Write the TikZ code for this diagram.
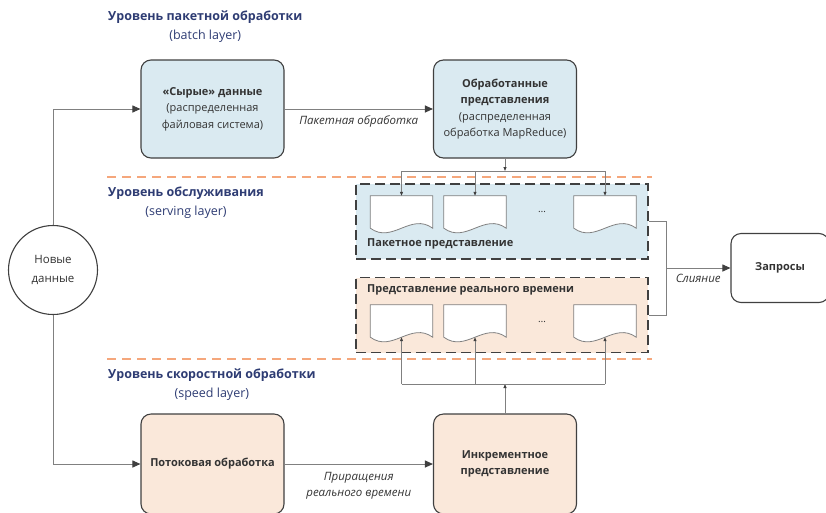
\documentclass[tikz,border=0pt]{standalone}
\usepackage{fontspec}
\setmainfont{Open Sans}
\usepackage{tikz}
\usetikzlibrary{arrows.meta,calc,positioning}
\definecolor{layerblue}{HTML}{2E3C73}
\definecolor{batchfill}{HTML}{DAEAF1}
\definecolor{speedfill}{HTML}{FAE8DA}
\definecolor{layerorange}{HTML}{F5A77C}
\definecolor{boxline}{HTML}{404040}
\definecolor{wiregray}{HTML}{808080}
\definecolor{inkgray}{HTML}{333333}
\tikzset{
  stagebox/.style={
    draw=boxline,
    rounded corners=10pt,
    line width=1.1pt,
    align=center,
    text=inkgray,
    minimum width=143pt,
    minimum height=98pt,
    inner sep=3pt,
    font=\fontsize{11}{16.5}\selectfont
  },
  stagebatch/.style={
    stagebox,
    fill=batchfill
  },
  stagespeed/.style={
    stagebox,
    fill=speedfill,
    minimum height=100pt
  },
  querybox/.style={
    stagebox,
    fill=white,
    minimum width=98pt,
    minimum height=69pt
  },
  sourcenode/.style={
    circle,
    draw=boxline,
    line width=1.1pt,
    minimum size=89pt,
    align=center,
    text=inkgray,
    fill=white,
    font=\fontsize{11.5}{19}\selectfont
  },
  viewframe/.style={
    draw=boxline,
    dash pattern=on 10pt off 5pt,
    line width=1.6pt,
    minimum width=292pt,
    minimum height=75pt
  },
  docsheet/.style={
    minimum width=62pt,
    minimum height=32pt,
    inner sep=0pt
  },
  sheetline/.style={
    draw=wiregray,
    fill=white,
    line width=0.8pt
  },
  framelabel/.style={
    anchor=west,
    inner sep=1pt,
    text=inkgray,
    font=\bfseries\fontsize{11}{14}\selectfont
  },
  layertitle/.style={
    anchor=west,
    inner sep=1pt,
    text=layerblue,
    font=\bfseries\fontsize{12.5}{15}\selectfont
  },
  layernote/.style={
    inner sep=1pt,
    text=layerblue,
    font=\fontsize{12.5}{15}\selectfont
  },
  layerline/.style={
    draw=layerorange,
    line width=1.3pt,
    dash pattern=on 9pt off 6pt
  },
  flowarrow/.style={
    -{Triangle[length=8pt,width=7pt,color=boxline]},
    draw=wiregray,
    line width=1pt
  },
  feedarrow/.style={
    -{Triangle[length=4pt,width=3pt,color=boxline]},
    draw=wiregray,
    line width=0.8pt
  },
  wire/.style={
    draw=wiregray,
    line width=0.8pt
  },
  edgenote/.style={
    inner sep=1pt,
    align=center,
    text=inkgray,
    font=\itshape\fontsize{11.5}{16}\selectfont
  }
}
% wavy document sheet drawn round a docsheet node
\newcommand{\sheetoutline}[1]{%
  \draw[sheetline] (#1.south west) -- (#1.north west) -- (#1.north east) -- (#1.south east)
    .. controls ($(#1.south east)+(-22,-16)$) and ($(#1.south west)+(22,16)$) .. (#1.south west) -- cycle;}

\begin{document}
\begin{tikzpicture}[x=1pt,y=-1pt]
    \useasboundingbox (0,0) rectangle (826,512);

    % layer titles
    \node[layertitle] (batchtitle) at (107,17) {Уровень пакетной обработки};
    \node[layernote, below=4pt of batchtitle] (batchnote) {(batch layer)};
    \node[layertitle] (servetitle) at (107,193) {Уровень обслуживания};
    \node[layernote, below=4pt of servetitle] (servenote) {(serving layer)};
    \node[layertitle] (speedtitle) at (107,375) {Уровень скоростной обработки};
    \node[layernote, below=4pt of speedtitle] (speednote) {(speed layer)};

    \draw[layerline] (107,177) -- (652,177);
    \draw[layerline] (107,359) -- (652,359);

    % main stages
    \node[stagebatch] (rawdata) at (212.5,109) {
        \textbf{«Сырые» данные}\\
        (распределенная\\
        файловая система)
    };
    \node[stagebatch] (batchviews) at (505,109) {
        \textbf{Обработанные}\\
        \textbf{представления}\\
        (распределенная\\
        обработка MapReduce)
    };
    \node[sourcenode] (newdata) at (53,270) {Новые\\данные};
    \node[stagespeed] (streaming) at (212.5,464) {\textbf{Потоковая обработка}};
    \node[stagespeed] (increment) at (505,464) {
        \textbf{Инкрементное}\\
        \textbf{представление}
    };
    \node[querybox] (queries) at (780,268) {\textbf{Запросы}};

    % serving views
    \node[viewframe, fill=batchfill] (batchframe) at (502,221.5) {};
    \node[viewframe, fill=speedfill] (speedframe) at (502,315) {};
    \node[framelabel] (batchlabel) at (366,244) {Пакетное представление};
    \node[framelabel] (speedlabel) at (366,290) {Представление реального времени};
    \node[text=inkgray] (batchdots) at (542,212) {\dots};
    \node[text=inkgray] (speeddots) at (542,322) {\dots};

    \foreach \x [count=\i] in {401.5,475,605} {
        \node[docsheet] (bdoc\i) at (\x,212) {};
        \node[docsheet] (rdoc\i) at (\x,321) {};
    }
    \foreach \d in {bdoc1,bdoc2,bdoc3,rdoc1,rdoc2,rdoc3} {
        \sheetoutline{\d}
    }

    \coordinate (batchbus) at (505,171);
    \coordinate (speedbus) at (505,384);
    \coordinate (mergebus) at (666,268);

    % flows
    \draw[flowarrow] (newdata.north) |- (rawdata.west);
    \draw[flowarrow] (newdata.south) |- (streaming.west);
    \draw[flowarrow] (rawdata) -- (batchviews)
        node[edgenote, midway, below=5pt] {Пакетная обработка};
    \draw[flowarrow] (streaming) -- (increment)
        node[edgenote, midway, below=7pt] {Приращения\\реального времени};

    \draw[feedarrow] (batchviews.south) -- (batchbus);
    \draw[wire] (bdoc1.north |- batchbus) -- (bdoc3.north |- batchbus);
    \foreach \i in {1,2,3} {
        \draw[feedarrow] (bdoc\i.north |- batchbus) -- (bdoc\i.north);
    }

    \draw[feedarrow] (increment.north) -- (speedbus);
    \draw[wire] (rdoc1.south |- speedbus) -- (rdoc3.south |- speedbus);
    \foreach \i in {1,2,3} {
        \draw[feedarrow] (rdoc\i.south |- speedbus) -- (rdoc\i.south);
    }

    \draw[wire] (batchframe.east) -- (batchframe.east -| mergebus)
        -- (speedframe.east -| mergebus) -- (speedframe.east);
    \draw[flowarrow] (mergebus) -- (queries.west)
        node[edgenote, midway, below=5pt] {Слияние};
\end{tikzpicture}
\end{document}
